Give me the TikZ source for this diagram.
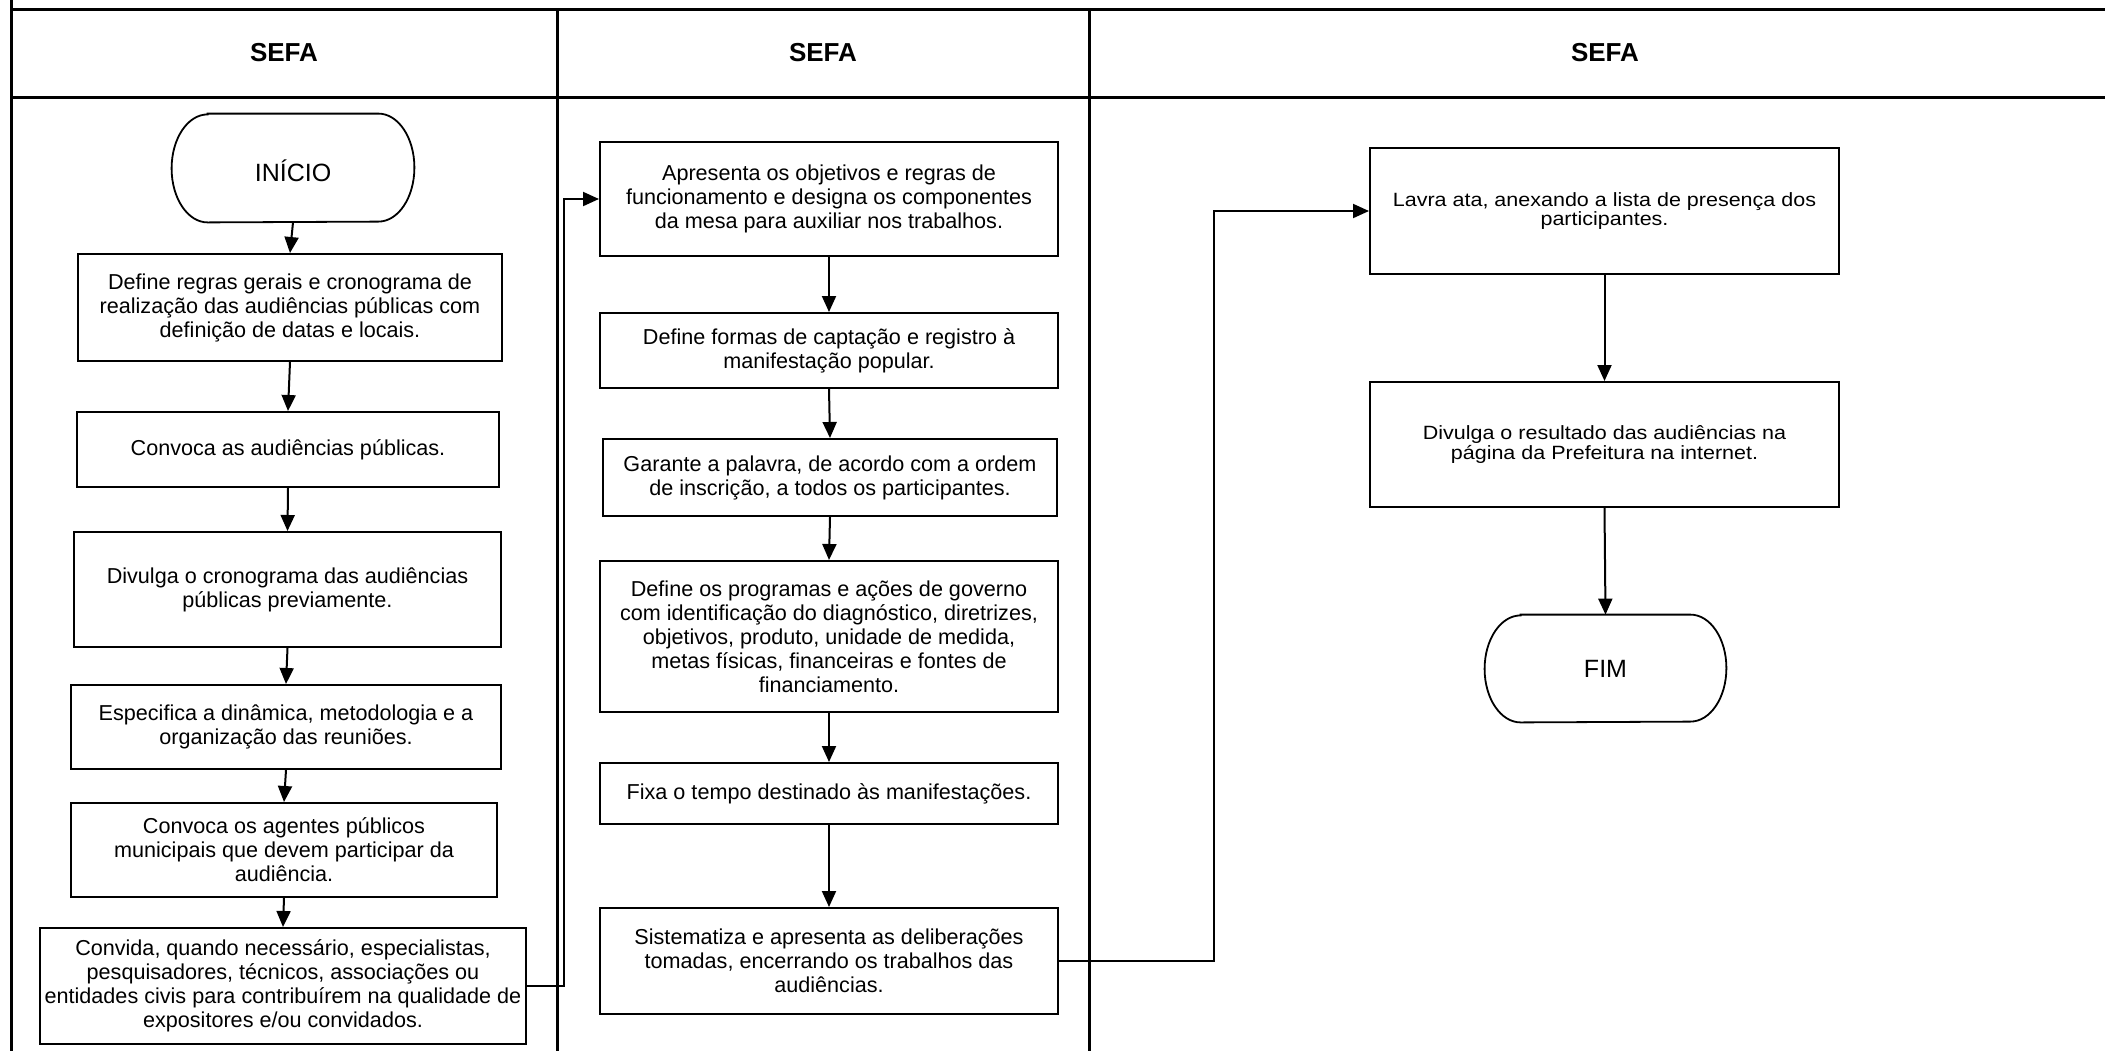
\documentclass[tikz,border=0pt]{standalone}
\usepackage{fontspec}
\setmainfont{Liberation Sans}
\newfontfamily\widefont[FakeStretch=1.12]{Liberation Sans}
\usetikzlibrary{arrows.meta}
\begin{document}
\begin{tikzpicture}[x=0.5pt,y=-0.5pt,
  frame/.style={line width=1.5pt},
  box/.style={draw, line width=1pt, rectangle, align=center, inner sep=1pt, font=\fontsize{10.8}{12}\selectfont},
  boxw/.style={draw, line width=1pt, rectangle, align=center, inner sep=1pt, font=\widefont\fontsize{9.6}{9.9}\selectfont},
  term/.style={align=center, inner sep=0pt, font=\fontsize{12.5}{14}\selectfont},
  termline/.style={line width=0.9pt},
  arr/.style={line width=1pt, -{Triangle[length=8pt,width=7pt]}},
  hdr/.style={font=\bfseries\fontsize{13}{15}\selectfont}
]
\useasboundingbox (0,0) rectangle (2105,1051);

% swimlane frame
\draw[frame] (11,0) -- (11,1051);
\draw[frame] (11,9) -- (2105,9);
\draw[frame] (11,97) -- (2105,97);
\draw[frame] (557,9) -- (557,1051);
\draw[frame] (1089,9) -- (1089,1051);

\node[hdr] (h1) at (284,53) {SEFA};
\node[hdr] (h2) at (823,53) {SEFA};
\node[hdr] (h3) at (1605,53) {SEFA};

% column 1
\node[term, minimum width=121pt, minimum height=54pt] (ini) at (293,168) {\raisebox{-6.5pt}[0pt][0pt]{INÍCIO}};
\draw[termline] ([xshift=18pt]ini.north west) -- ([xshift=-18pt]ini.north east)
  arc[start angle=90,end angle=-90,x radius=18pt,y radius=27pt]
  -- ([xshift=18pt]ini.south west)
  arc[start angle=270,end angle=90,x radius=18pt,y radius=27pt] -- cycle;

\node[box, minimum width=212pt, minimum height=53.5pt] (b2) at (290,307.5)
  {Define regras gerais e cronograma de\\realização das audiências públicas com\\definição de datas e locais.};
\node[box, minimum width=211pt, minimum height=37.5pt] (b3) at (288,449.5)
  {Convoca as audiências públicas.};
\node[box, minimum width=213.5pt, minimum height=57.5pt] (b4) at (287.5,589.5)
  {Divulga o cronograma das audiências\\públicas previamente.};
\node[box, minimum width=215pt, minimum height=42pt] (b5) at (286,727)
  {Especifica a dinâmica, metodologia e a\\organização das reuniões.};
\node[box, minimum width=213pt, minimum height=47pt] (b6) at (284,850)
  {Convoca os agentes públicos\\municipais que devem participar da\\audiência.};
\node[box, minimum width=243pt, minimum height=58pt] (b7) at (283,986)
  {Convida, quando necessário, especialistas,\\pesquisadores, técnicos, associações ou\\entidades civis para contribuírem na qualidade de\\expositores e/ou convidados.};

% column 2
\node[box, minimum width=229pt, minimum height=57pt] (b8) at (829,199)
  {Apresenta os objetivos e regras de\\funcionamento e designa os componentes\\da mesa para auxiliar nos trabalhos.};
\node[box, minimum width=229pt, minimum height=37.5pt] (b9) at (829,350.5)
  {Define formas de captação e registro à\\manifestação popular.};
\node[box, minimum width=227pt, minimum height=38.5pt] (b10) at (830,477.5)
  {Garante a palavra, de acordo com a ordem\\de inscrição, a todos os participantes.};
\node[box, minimum width=229pt, minimum height=75.5pt] (b11) at (829,636.5)
  {Define os programas e ações de governo\\com identificação do diagnóstico, diretrizes,\\objetivos, produto, unidade de medida,\\metas físicas, financeiras e fontes de\\financiamento.};
\node[box, minimum width=229pt, minimum height=30.5pt] (b12) at (829,793.5)
  {Fixa o tempo destinado às manifestações.};
\node[box, minimum width=229pt, minimum height=53pt] (b13) at (829,961)
  {Sistematiza e apresenta as deliberações\\tomadas, encerrando os trabalhos das\\audiências.};

% column 3
\node[boxw, minimum width=234.5pt, minimum height=63pt] (b14) at (1604.5,211)
  {Lavra ata, anexando a lista de presença dos\\participantes.};
\node[boxw, minimum width=234.5pt, minimum height=62.5pt] (b15) at (1604.5,444.5)
  {Divulga o resultado das audiências na\\página da Prefeitura na internet.};
\node[term, minimum width=120.5pt, minimum height=53.5pt] (fim) at (1605.5,668.5) {FIM};
\draw[termline] ([xshift=18pt]fim.north west) -- ([xshift=-18pt]fim.north east)
  arc[start angle=90,end angle=-90,x radius=18pt,y radius=26.75pt]
  -- ([xshift=18pt]fim.south west)
  arc[start angle=270,end angle=90,x radius=18pt,y radius=26.75pt] -- cycle;

% connectors
\draw[arr] (ini.south) -- (b2.north);
\draw[arr] (b2.south) -- (b3.north);
\draw[arr] (b3.south) -- (b4.north);
\draw[arr] (b4.south) -- (b5.north);
\draw[arr] (b5.south) -- (b6.north);
\draw[arr] (b6.south) -- (b7.north);

\coordinate (j1) at (564,0);
\draw[arr] (b7.east) -| (j1 |- b8.west) -- (b8.west);

\draw[arr] (b8.south) -- (b9.north);
\draw[arr] (b9.south) -- (b10.north);
\draw[arr] (b10.south) -- (b11.north);
\draw[arr] (b11.south) -- (b12.north);
\draw[arr] (b12.south) -- (b13.north);

\coordinate (j2) at (1214,0);
\draw[arr] (b13.east) -| (j2 |- b14.west) -- (b14.west);

\draw[arr] (b14.south) -- (b15.north);
\draw[arr] (b15.south) -- (fim.north);
\end{tikzpicture}
\end{document}
